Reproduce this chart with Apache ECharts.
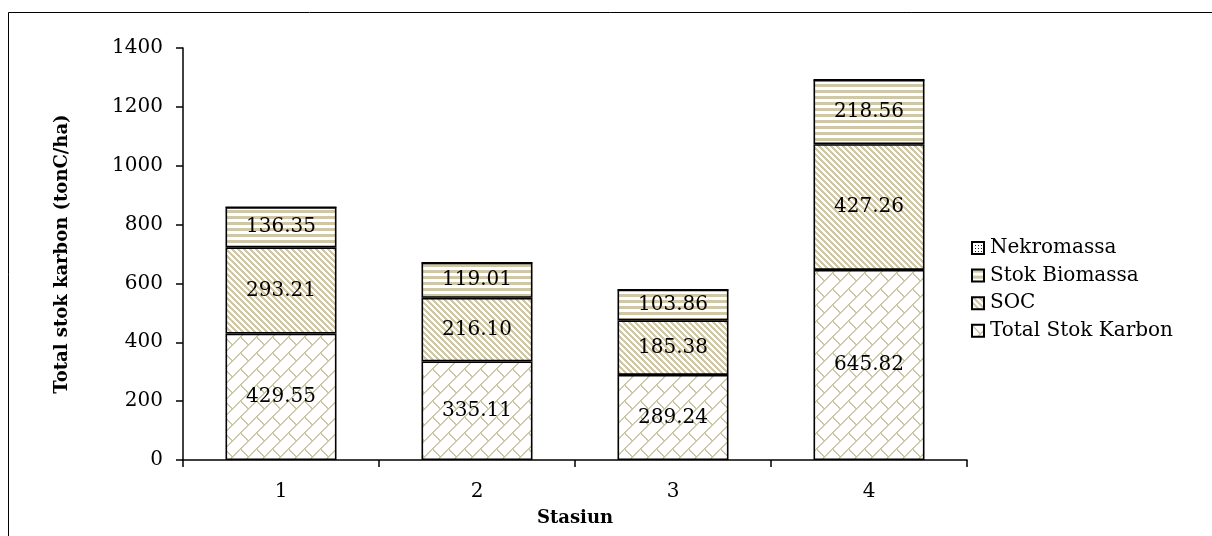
<!DOCTYPE html>
<html>
<head>
<meta charset="utf-8">
<script src="https://cdn.jsdelivr.net/npm/echarts@6/dist/echarts.min.js"></script>
<style>html,body{margin:0;padding:0;background:#fff}#c{width:1212px;height:536px}</style>
</head>
<body>
<div id="c"></div>
<script>
var categories = ['1', '2', '3', '4'];
var totalStokKarbon = [429.55, 335.11, 289.24, 645.82];
var soc = [293.21, 216.10, 185.38, 427.26];
var stokBiomassa = [136.35, 119.01, 103.86, 218.56];
var nekromassa = [0, 0, 0, 0];
var yTicks = [0, 200, 400, 600, 800, 1000, 1200, 1400];

var TAN = [207, 199, 165];
function makePattern(size, fn) {
  var c = document.createElement('canvas');
  c.width = size; c.height = size;
  var ctx = c.getContext('2d');
  var img = ctx.createImageData(size, size);
  for (var y = 0; y < size; y++) {
    for (var x = 0; x < size; x++) {
      var v = fn(x, y); // 0 white, 1 tan, 2 dark
      var i = (y * size + x) * 4;
      var col = v === 1 ? TAN : (v === 2 ? [30, 30, 30] : [255, 255, 255]);
      img.data[i] = col[0]; img.data[i + 1] = col[1]; img.data[i + 2] = col[2]; img.data[i + 3] = 255;
    }
  }
  ctx.putImageData(img, 0, 0);
  return { image: c, repeat: 'repeat' };
}
function mod(a, n) { return ((a % n) + n) % n; }
// diagonal brick pattern
var brick = makePattern(32, function (x, y) {
  var a = x + y, b = y - x;
  var r = Math.floor(a / 16);
  if (mod(a, 16) === 0 || mod(a, 16) === 1) return 1;
  var off = (r % 2 === 0) ? 0 : 16;
  var m = mod(b + off, 32);
  if (m === 0 || m === 1) return 1;
  return 0;
});
var diag = makePattern(6, function (x, y) {
  return mod(x - y, 6) < 3 ? 1 : 0;
});
var horiz = makePattern(6, function (x, y) {
  return y % 6 < 3 ? 1 : 0;
});
var nek = makePattern(6, function (x, y) {
  return (x % 3 === 0 && y % 3 === 0) ? 2 : 0;
});

var FONT = 'DejaVu Serif';
var labelOpt = {
  show: true, position: 'inside', color: '#000', fontFamily: FONT, fontSize: 20,
  formatter: function (p) { return p.value > 0 ? p.value.toFixed(2) : ''; }
};
function mk(name, data, pattern, withLabel) {
  return {
    name: name, type: 'bar', stack: 'total', data: data, barWidth: 111,
    itemStyle: { color: pattern, borderColor: '#000', borderWidth: 1.6 },
    label: withLabel ? labelOpt : { show: false },
    emphasis: { disabled: true }, animation: false
  };
}

var chart = echarts.init(document.getElementById('c'), null, { renderer: 'canvas' });
chart.setOption({
  animation: false,
  backgroundColor: '#fff',
  textStyle: { fontFamily: FONT },
  graphic: [{
    type: 'rect', shape: { x: 8.5, y: 12.5, width: 1230, height: 560 },
    style: { fill: 'none', stroke: '#000', lineWidth: 1 }, silent: true, z: -1
  }],
  grid: { left: 183, right: 245, top: 48, bottom: 76 },
  legend: {
    orient: 'vertical', left: 966, top: 232,
    data: ['Nekromassa', 'Stok Biomassa', 'SOC', 'Total Stok Karbon'],
    itemWidth: 12, itemHeight: 12, itemGap: 5.6, icon: 'rect',
    textStyle: { fontFamily: FONT, fontSize: 20, color: '#000', lineHeight: 22, padding: [0, 0, 0, 1] },
    selectedMode: false
  },
  xAxis: {
    type: 'category', data: categories,
    name: 'Stasiun', nameLocation: 'middle', nameGap: 49,
    nameTextStyle: { fontFamily: FONT, fontSize: 18, fontWeight: 'bold', color: '#000' },
    axisLine: { show: true, lineStyle: { color: '#000', width: 1.5 } },
    axisTick: { show: true, length: 7, lineStyle: { color: '#000', width: 1.5 } },
    axisLabel: { fontFamily: FONT, fontSize: 20, color: '#000', margin: 22 }
  },
  yAxis: {
    type: 'value', min: yTicks[0], max: yTicks[yTicks.length - 1], interval: 200,
    name: 'Total stok karbon (tonC/ha)', nameLocation: 'middle', nameGap: 112, nameRotate: 90,
    nameTextStyle: { fontFamily: FONT, fontSize: 18, fontWeight: 'bold', color: '#000' },
    axisLine: { show: true, lineStyle: { color: '#000', width: 1.5 } },
    axisTick: { show: true, length: 7, lineStyle: { color: '#000', width: 1.5 } },
    splitLine: { show: false },
    axisLabel: { fontFamily: FONT, fontSize: 20, color: '#000', margin: 20, formatter: function (v) { return String(v); } }
  },
  series: [
    mk('Total Stok Karbon', totalStokKarbon, brick, true),
    mk('SOC', soc, diag, true),
    mk('Stok Biomassa', stokBiomassa, horiz, true),
    mk('Nekromassa', nekromassa, nek, false)
  ]
});
</script>
</body>
</html>
